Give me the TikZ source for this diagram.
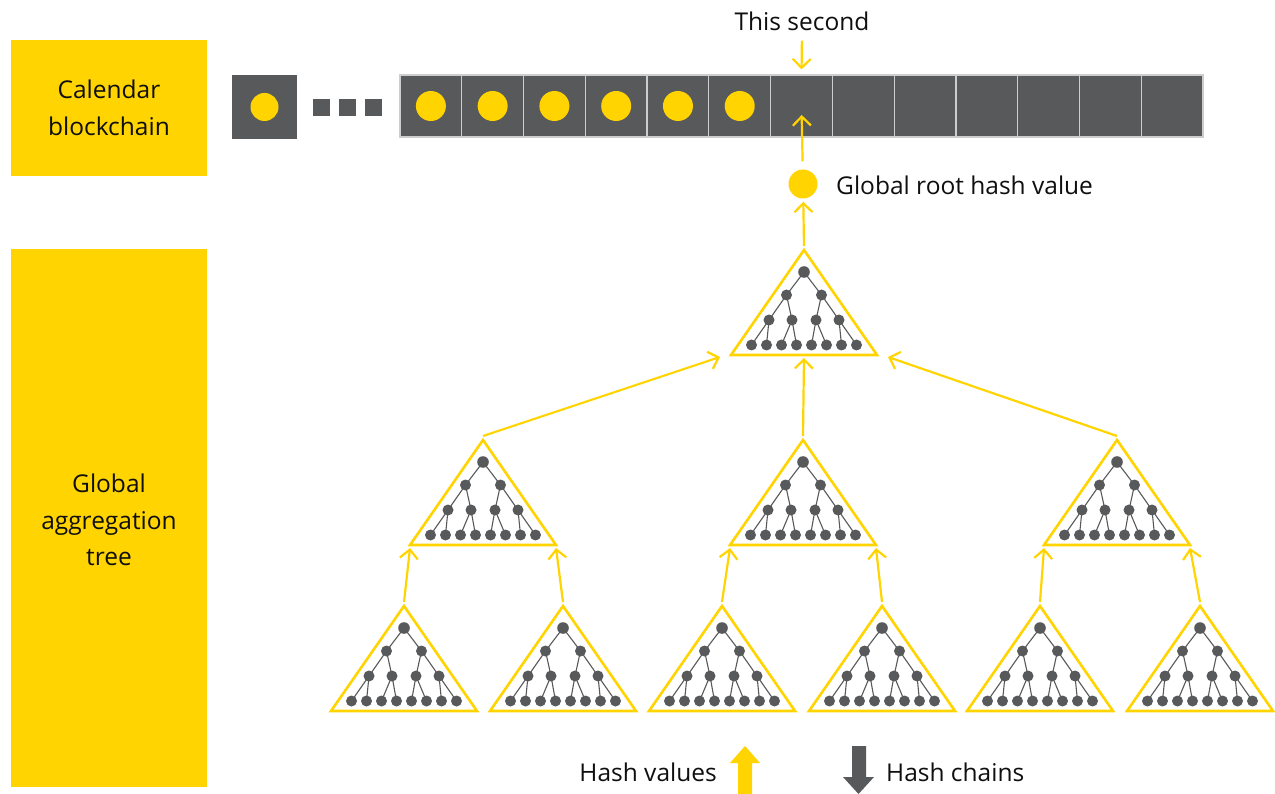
\documentclass[tikz,border=0pt]{standalone}
\usepackage{fontspec}
\setmainfont{Open Sans}
\usetikzlibrary{arrows.meta}
\definecolor{eyy}{RGB}{255,212,0}
\definecolor{eyg}{RGB}{88,89,91}
\definecolor{sepc}{RGB}{205,205,205}
\definecolor{txt}{RGB}{15,15,15}
\tikzset{
  lab/.style={text=txt,font=\fontsize{24.5}{36.5}\selectfont,align=center,inner sep=0pt},
  ybox/.style={fill=eyy,draw=none,inner sep=0pt},
  cell/.style={fill=eyg,draw=sepc,line width=1.2pt,minimum width=61.77pt,minimum height=62pt,inner sep=0pt},
  blk/.style={fill=eyg,draw=none,inner sep=0pt},
  ydot/.style={circle,fill=eyy,draw=none,inner sep=0pt,minimum size=#1},
  tri/.style={draw=eyy,line width=2.6pt,line join=miter,fill=white},
  tedge/.style={draw=eyg,line width=1.1pt},
  tdot/.style={fill=eyg},
  link/.style={draw=eyy,line width=2.2pt,-{Straight Barb[length=9pt,width=18pt,line width=2.2pt]}},
  htree/.pic={
    \draw[tri] (0,0) coordinate (-apex) -- (73,105) -- (-73,105) -- cycle;
    \coordinate (-top) at (0,-4);
    \coordinate (-sl) at (-73,108);
    \coordinate (-sr) at (73,108);
    \coordinate (-s) at (0,108);
    \coordinate (-wl) at (-84,107);
    \coordinate (-el) at (84,107);
    \draw[tedge] (-17.5,45) -- (0,22) -- (17.5,45);
    \draw[tedge] (-35,70) -- (-17.5,45) -- (-12,70);
    \draw[tedge] (12,70) -- (17.5,45) -- (35,70);
    \draw[tedge] (-52.5,95) -- (-35,70) -- (-37.5,95);
    \draw[tedge] (-22.5,95) -- (-12,70) -- (-7.5,95);
    \draw[tedge] (7.5,95) -- (12,70) -- (22.5,95);
    \draw[tedge] (37.5,95) -- (35,70) -- (52.5,95);
    \fill[tdot] (0,22) circle (5.8);
    \foreach \x in {-17.5,17.5} \fill[tdot] (\x,45) circle (5.5);
    \foreach \x in {-35,-12,12,35} \fill[tdot] (\x,70) circle (5.5);
    \foreach \k in {0,...,7} \fill[tdot] (-52.5+15*\k,95) circle (5.5);
  }
}
\begin{document}
\begin{tikzpicture}[x=1pt,y=-1pt]
\useasboundingbox (0,0) rectangle (1275,794);
% left labels
\node[ybox,minimum width=196pt,minimum height=136pt] (cbox) at (109,108) {};
\node[lab] (clab) at (cbox.center) {Calendar\\blockchain};
\node[ybox,minimum width=196pt,minimum height=538pt] (gbox) at (109,518) {};
\node[lab] (glab) at (109,520) {Global\\aggregation\\tree};
% blockchain
\node[blk,minimum width=65pt,minimum height=64pt] (b0) at (264.5,107) {};
\node[ydot=28pt] (d0) at (b0.center) {};
\foreach \x [count=\i] in {321.5,347.5,373.5}
  \node[blk,minimum size=17pt] (e\i) at (\x,107.5) {};
\foreach \i in {1,...,13}
  \node[cell] (c\i) at ({400+61.77*(\i-0.5)},106) {};
\foreach \i in {1,...,6}
  \node[ydot=30pt] (d\i) at (c\i.center) {};
% this second
\node[lab] (ts) at (802,21) {This second};
\draw[link,shorten <=10pt,shorten >=5pt] (ts.south) -- (c7.north);
% global root
\node[ydot=29pt] (root) at (803,184) {};
\node[lab,anchor=west] (rlab) at (836,185) {Global root hash value};
\draw[link,shorten <=8pt,shorten >=9pt] (root) -- (c7.center);
% trees
\pic (T) at (804,250) {htree};
\pic (M1) at (483,440) {htree};
\pic (M2) at (803,440) {htree};
\pic (M3) at (1117,440) {htree};
\pic (B1) at (404,606) {htree};
\pic (B2) at (563,606) {htree};
\pic (B3) at (722,606) {htree};
\pic (B4) at (882,606) {htree};
\pic (B5) at (1040,606) {htree};
\pic (B6) at (1200,606) {htree};
\draw[link,shorten >=3pt] (T-top) -- (root);
\draw[link] (M1-top) -- (T-wl);
\draw[link] (M2-top) -- (T-s);
\draw[link] (M3-top) -- (T-el);
\draw[link] (B1-top) -- (M1-sl);
\draw[link] (B2-top) -- (M1-sr);
\draw[link] (B3-top) -- (M2-sl);
\draw[link] (B4-top) -- (M2-sr);
\draw[link] (B5-top) -- (M3-sl);
\draw[link] (B6-top) -- (M3-sr);
% legend
\node[lab,anchor=east] (hv) at (717,772) {Hash values};
\fill[eyy] (738,794) -- (738,763) -- (730,763) -- (745,746) -- (760,763) -- (752,763) -- (752,794) -- cycle;
\fill[eyg] (852,746) -- (866,746) -- (866,777) -- (874,777) -- (858.5,794) -- (843,777) -- (852,777) -- cycle;
\node[lab,anchor=west] (hc) at (886,772) {Hash chains};
\end{tikzpicture}
\end{document}
